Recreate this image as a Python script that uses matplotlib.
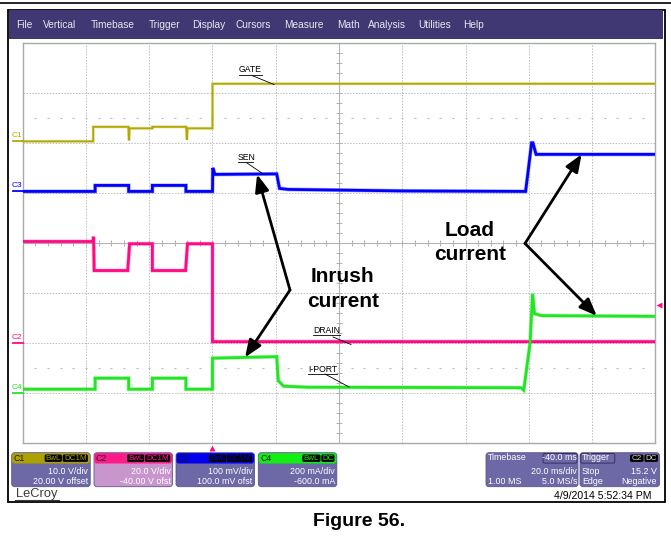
import numpy as np
import matplotlib.pyplot as plt
from matplotlib.patches import FancyBboxPatch, Rectangle

plt.rcParams['font.family'] = ['Liberation Sans', 'DejaVu Sans']

W, H = 671, 544

# capture timebase: 10 div x 20 ms, trigger at 0 ms
t_min, t_max = -60.0, 140.0
n_xdiv, n_ydiv = 10, 8

# C1 GATE [V], 10 V/div, ground at 6.03 div
gate_t = [-60, -37.7, -37.7, -26.6, -26.4, -26.2, -19.0, -19.0, -8.3, -8.1, -7.9, 0.0, 0.0, 140]
gate_v = [0.0, 0.0, 2.9, 2.9, 0.2, 2.6, 2.6, 2.9, 2.9, 0.3, 2.6, 2.6, 11.5, 11.5]

# C3 SEN [mV], 100 mV/div, ground at 5.03 div
sen_t = [-60, -37.1, -37.1, -26.5, -26.5, -19.0, -19.0, -8.4, -8.4, 0.0, 0.1, 0.8,
         20.3, 21.2, 24.0, 60.0, 99.0, 100.9, 101.3, 102.3, 140]
sen_v = [0, 0, 12, 12, 0, 0, 12, 12, 0, 0, 47, 34, 35, 6, 4, 1, 0, 97, 97, 74, 74]

# C2 DRAIN [V], 20 V/div, ground at 2.0 div
drain_t = [-60, -37.8, -37.6, -37.4, -26.8, -26.2, -19.0, -19.0, -8.5, -7.9, 0.0, 0.0, 140]
drain_v = [40.6, 40.6, 42.5, 29.0, 29.0, 39.7, 39.7, 29.0, 29.0, 39.7, 39.7, 0.6, 0.6]

# C4 I-PORT [mA], 200 mA/div, ground at 1.0 div
iport_t = [-60, -37.1, -37.1, -26.5, -26.5, -19.0, -19.0, -8.4, -8.4, 0.0, 0.0, 20.3, 20.8,
           22.5, 30.0, 97.5, 98.4, 100.4, 101.2, 101.8, 104.0, 140]
iport_v = [16, 16, 60, 60, 16, 16, 60, 60, 16, 16, 140, 146, 50, 28, 24, 22, 12, 200, 397,
           318, 310, 307]

channels = [
    # name, times, values, ground (div), units per div, colour, width
    ('C1', gate_t, gate_v, 6.03, 10.0, '#b3a800', 1.3),
    ('C3', sen_t, sen_v, 5.03, 100.0, '#0000ff', 2.0),
    ('C2', drain_t, drain_v, 2.0, 20.0, '#ff0a84', 2.0),
    ('C4', iport_t, iport_v, 1.0, 200.0, '#22e622', 2.0),
]
trig_level = 15.2  # V on C2

# grid box in pixels
gx0, gx1, gy0, gy1 = 22.7, 655.3, 42.7, 443.3


def to_px(t, div):
    x = gx0 + (t - t_min) / (t_max - t_min) * (gx1 - gx0)
    y = gy1 - div / n_ydiv * (gy1 - gy0)
    return x, y


fig = plt.figure(figsize=(W / 100, H / 100), dpi=100)
fig.patch.set_facecolor('white')

bg = fig.add_axes([0, 0, 1, 1])
bg.set_xlim(0, W)
bg.set_ylim(H, 0)
bg.axis('off')

# scope graticule axes
ax = fig.add_axes([gx0 / W, 1 - gy1 / H, (gx1 - gx0) / W, (gy1 - gy0) / H])
ax.set_xlim(t_min, t_max)
ax.set_ylim(0, n_ydiv)
ax.set_facecolor('none')
ax.set_xticks([])
ax.set_yticks([])
for s in ax.spines.values():
    s.set_color('#a9a9a9')
    s.set_linewidth(1.0)
ax.set_zorder(1)

xdiv = np.linspace(t_min, t_max, n_xdiv + 1)
for xv in xdiv[1:-1]:
    if xv == 40.0:
        continue
    ax.axvline(xv, color='#bdbdbd', lw=0.7, ls=(0, (1.5, 1.5)), zorder=0)
for yv in range(1, n_ydiv):
    if yv == 4:
        continue
    ax.axhline(yv, color='#bdbdbd', lw=0.7, ls=(0, (1.5, 1.5)), zorder=0)
ax.axvline(40.0, color='#b5b5b5', lw=0.8, zorder=0)
ax.axhline(4, color='#b5b5b5', lw=0.8, zorder=0)

minor_t = np.arange(t_min, t_max + 0.1, 4.0)
ax.plot(minor_t, np.full_like(minor_t, 4.0), ls='none', marker='|', ms=4,
        mew=0.7, color='#b0b0b0', zorder=0)
minor_y = np.arange(0, n_ydiv + 0.01, 0.2)
ax.plot(np.full_like(minor_y, 40.0), minor_y, ls='none', marker='_', ms=4,
        mew=0.7, color='#b0b0b0', zorder=0)
for row in (1.5, 6.5):
    ax.plot(minor_t[1:-1], np.full(len(minor_t) - 2, row), ls='none', marker='_',
            ms=2, mew=0.8, color='#b8b8b8', zorder=0)

for name, tt, vv, zero, per_div, col, lw in channels:
    div = zero + np.asarray(vv, dtype=float) / per_div
    ax.plot(tt, div, color=col, lw=lw + 0.9, alpha=0.3, solid_joinstyle='miter', zorder=2)
    ax.plot(tt, div, color=col, lw=lw, solid_joinstyle='miter', zorder=3)

top = fig.add_axes([0, 0, 1, 1])
top.set_xlim(0, W)
top.set_ylim(H, 0)
top.axis('off')
top.set_facecolor('none')
top.set_zorder(2)

# frame and menu bar
bg.plot([0, W], [2.5, 2.5], color='black', lw=1.2)
bg.add_patch(Rectangle((7.8, 10), 657, 492, fill=False, ec='black', lw=1.3))
bg.add_patch(Rectangle((8.5, 10), 654.5, 29, color='#403872', lw=0))
menu = [('File', 16.3), ('Vertical', 43), ('Timebase', 90.7), ('Trigger', 148.5),
        ('Display', 191.7), ('Cursors', 236), ('Measure', 284.5), ('Math', 336.8),
        ('Analysis', 368), ('Utilities', 418.5), ('Help', 463)]
for label, x in menu:
    bg.text(x, 25, label, color='#e8e6f2', fontsize=7.3, va='center', ha='left')

# ground markers at the left edge
for name, tt, vv, zero, per_div, col, lw in channels:
    x, y = to_px(t_min, zero)
    top.plot([13, gx0], [y, y], color=col, lw=1.3)
    top.text(12, y - 5.5, name, color=col, fontsize=6, ha='left', va='center')

# trigger markers
tx, _ = to_px(0.0, 0)
top.plot(tx, 447.5, marker='^', color='#ff0a84', ms=5, mec='none')
_, ty = to_px(0.0, 2.0 + trig_level / 20.0)
top.plot(658.5, ty, marker='<', color='#ff0a84', ms=5, mec='none')

# trace labels
def trace_label(text, x, y, x_end, line):
    top.text(x, y, text, fontsize=6.2, ha='left', va='center')
    top.plot([x, x_end], [y + 4.6, y + 4.6], color='black', lw=0.6)
    top.plot(line[0], line[1], color='black', lw=0.6)


trace_label('GATE', 239, 70, 262, ([252, 274], [75.5, 84.5]))
trace_label('SEN', 237.5, 157.7, 253, ([247, 264], [163, 174.5]))
trace_label('DRAIN', 313, 330.5, 339.5, ([333, 351], [337, 344.5]))
trace_label('I-PORT', 308, 369.3, 337, ([325, 349], [374, 387]))

# callouts
arrow = dict(arrowstyle='-|>,head_length=0.8,head_width=0.32', color='black', lw=2.0,
             shrinkA=0, shrinkB=0, mutation_scale=13)
inrush_vertex = (290, 290)
load_vertex = (525, 243.5)
tips = [
    (inrush_vertex, to_px(14.1, 5.03 + 34 / 100.0)),
    (inrush_vertex, to_px(10.3, 1.0 + 143 / 200.0)),
    (load_vertex, to_px(116.7, 5.03 + 74 / 100.0)),
    (load_vertex, to_px(121.5, 1.0 + 309 / 200.0)),
]
for start, tip in tips:
    top.annotate('', xy=tip, xytext=start, arrowprops=arrow)

big = dict(fontsize=15, fontweight='bold', ha='center', va='center')
top.text(342.5, 277, 'Inrush', **big)
top.text(343.5, 301.5, 'current', **big)
top.text(470, 230, 'Load', **big)
top.text(470.5, 254.5, 'current', **big)

# channel setup boxes
slate = '#6d68a6'
boxes = [
    ('C1', 11.7, '#aca100', slate, [('BwL', 18), ('DC1M', 26)], '10.0 V/div', '20.00 V offset'),
    ('C2', 94.0, '#ff1a8c', '#c896cc', [('BwL', 18), ('DC1M', 26)], '20.0 V/div', '-40.00 V ofst'),
    ('C3', 176.0, '#0000ee', slate, [('BwL', 18), ('DC1M', 26)], '100 mV/div', '100.0 mV ofst'),
    ('C4', 258.3, '#11ee11', slate, [('BwL', 19), ('DC', 14)], '200 mA/div', '-600.0 mA'),
]
by0, by1, bw = 452.7, 486.7, 78.5
for name, x0, hcol, bcol, badges, l1, l2 in boxes:
    bg.add_patch(FancyBboxPatch((x0, by0), bw, by1 - by0,
                                boxstyle='round,pad=0,rounding_size=3',
                                fc=bcol, ec='#5a5690', lw=0.6))
    bg.add_patch(FancyBboxPatch((x0 + 0.4, by0 + 0.4), bw - 0.8, 10.4,
                                boxstyle='round,pad=0,rounding_size=2.5',
                                fc=hcol, ec='none'))
    bg.text(x0 + 2, by0 + 5.6, name, fontsize=6.3, color='#1a1a1a', va='center')
    xr = x0 + bw - 1.5
    for txt, wd in reversed(badges):
        bg.add_patch(FancyBboxPatch((xr - wd, by0 + 1.8), wd - 0.8, 7.4,
                                    boxstyle='round,pad=0,rounding_size=1.5',
                                    fc='black', ec='none'))
        bg.text(xr - wd / 2 - 0.4, by0 + 5.6, txt, fontsize=5.8, color=hcol,
                ha='center', va='center')
        xr -= wd
    bg.text(x0 + bw - 2, 471.7, l1, fontsize=6.4, color='white', ha='right', va='center')
    bg.text(x0 + bw - 2, 481.7, l2, fontsize=6.4, color='white', ha='right', va='center')

# timebase and trigger boxes
for x0, wd in ((486, 92), (580, 79.5)):
    bg.add_patch(FancyBboxPatch((x0, by0), wd, by1 - by0,
                                boxstyle='round,pad=0,rounding_size=3',
                                fc=slate, ec='#5a5690', lw=0.6))
bg.add_patch(FancyBboxPatch((543, by0 + 0.8), 34, 9.6, boxstyle='round,pad=0,rounding_size=1.5',
                            fc='none', ec='#2d2a55', lw=0.6))
bg.add_patch(FancyBboxPatch((580.8, by0 + 0.8), 34, 9.6, boxstyle='round,pad=0,rounding_size=1.5',
                            fc='none', ec='#2d2a55', lw=0.6))
small = dict(fontsize=6.4, color='white', va='center')
bg.text(488, 458, 'Timebase', ha='left', **small)
bg.text(577, 458, '-40.0 ms', ha='right', **small)
bg.text(577, 471.7, '20.0 ms/div', ha='right', **small)
bg.text(488, 481.7, '1.00 MS', ha='left', **small)
bg.text(577, 481.7, '5.0 MS/s', ha='right', **small)
bg.text(582, 458, 'Trigger', ha='left', **small)
for txt, xb in (('C2', 630), ('DC', 644.5)):
    bg.add_patch(FancyBboxPatch((xb, by0 + 1.8), 13.5, 7.4, boxstyle='round,pad=0,rounding_size=1.5',
                                fc='black', ec='none'))
    bg.text(xb + 6.75, by0 + 5.6, txt, fontsize=5.8, color='#d8d8d8', ha='center', va='center')
bg.text(582, 471.7, 'Stop', ha='left', **small)
bg.text(657, 471.7, '15.2 V', ha='right', **small)
bg.text(582, 481.7, 'Edge', ha='left', **small)
bg.text(657, 481.7, 'Negative', ha='right', **small)

bg.text(16, 494, 'LeCroy', fontsize=9.3, color='#3c3c3c', ha='left', va='center')
bg.plot([15, 59], [499.5, 499.5], color='#3c3c3c', lw=0.8)
bg.text(651, 496, '4/9/2014 5:52:34 PM', fontsize=7.6, color='black', ha='right', va='center')

bg.text(359, 522, 'Figure 56.', fontsize=14, fontweight='bold', ha='center', va='center')

fig.savefig('out.png', dpi=100)
